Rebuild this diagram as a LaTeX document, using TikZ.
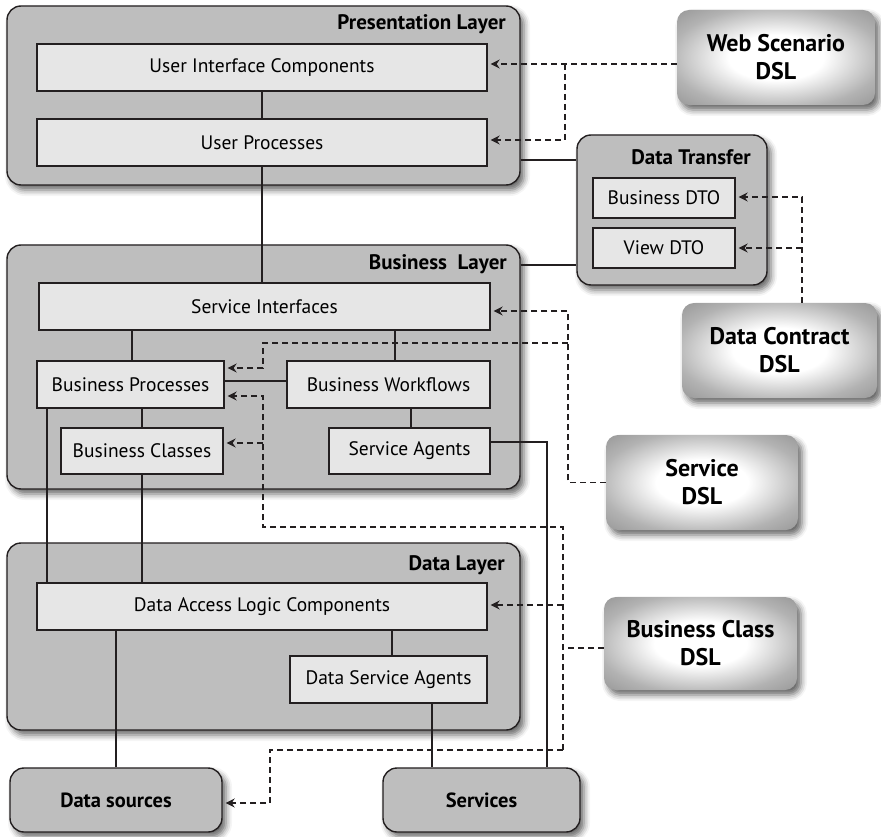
\documentclass[tikz,border=0pt]{standalone}
\usepackage{fontspec}
\setmainfont{PT Sans}
\usetikzlibrary{arrows.meta,shadows.blur}

\definecolor{edge}{HTML}{231F20}
\definecolor{layerfill}{HTML}{BEBEBE}
\definecolor{boxfill}{HTML}{E6E6E6}

% soft glow used for the DSL boxes: white core, grey rim
\pgfdeclareradialshading{dslglow}{\pgfpoint{0bp}{0bp}}{%
  color(0bp)=(white); color(12bp)=(white); color(27bp)=(black!30);
  color(42bp)=(black!48); color(50bp)=(black!56)}

\tikzset{
  softshadow/.style={blur shadow={shadow xshift=4pt, shadow yshift=-5pt,
      shadow blur radius=6pt, shadow opacity=60}},
  layer/.style={draw=edge, line width=1.4pt, fill=layerfill,
      rounded corners=14pt, softshadow, inner sep=0pt},
  part/.style={draw=edge, line width=1.3pt, fill=boxfill, inner sep=0pt,
      font=\fontsize{19.5}{22}\selectfont},
  title/.style={font=\bfseries\fontsize{21}{24}\selectfont, anchor=east,
      inner sep=0pt},
  endbox/.style={layer, font=\bfseries\fontsize{20.5}{24}\selectfont},
  dsl/.style={shade, shading=dslglow, rounded corners=12pt, softshadow,
      inner sep=0pt, align=center,
      font=\bfseries\fontsize{24}{28}\selectfont},
  link/.style={draw=edge, line width=1.3pt},
  depline/.style={draw=edge, line width=1.3pt, dash pattern=on 6pt off 4pt},
  dep/.style={depline, -{Stealth[length=9pt,width=9pt,inset=3pt]}},
}

\begin{document}
\begin{tikzpicture}[x=1pt,y=-1pt]
\useasboundingbox (0,0) rectangle (881,837);

% ---- layers ----
\node[layer, minimum width=513pt, minimum height=179pt] (pres) at (263.5,95.5) {};
\node[layer, minimum width=513pt, minimum height=244pt] (bus)  at (263.5,367) {};
\node[layer, minimum width=513pt, minimum height=187pt] (data) at (263.5,636.5) {};
\node[layer, minimum width=190pt, minimum height=150pt] (dt)   at (672,210) {};

\node[title] (prest) at (506,24) {Presentation Layer};
\node[title] (bust)  at (507,264) {Business~ Layer};
\node[title] (datat) at (505,565) {Data Layer};
\node[title] (dtt)   at (751,157) {Data Transfer};

% ---- components ----
\node[part, minimum width=450pt, minimum height=47pt] (uic)  at (262,67.5)  {User Interface Components};
\node[part, minimum width=450pt, minimum height=47pt] (up)   at (262,142.5) {User Processes};
\node[part, minimum width=451pt, minimum height=47pt] (si)   at (264.5,306.5) {Service Interfaces};
\node[part, minimum width=187pt, minimum height=47pt] (bp)   at (130.5,384.5) {Business Processes};
\node[part, minimum width=203pt, minimum height=47pt] (bw)   at (388.5,384.5) {Business Workflows};
\node[part, minimum width=162pt, minimum height=46pt] (bc)   at (142,451) {Business Classes};
\node[part, minimum width=161pt, minimum height=46pt] (sa)   at (409.5,451) {Service Agents};
\node[part, minimum width=450pt, minimum height=47pt] (dalc) at (262,606.5) {Data Access Logic Components};
\node[part, minimum width=197pt, minimum height=47pt] (dsa)  at (388.5,679.5) {Data Service Agents};
\node[part, minimum width=142pt, minimum height=40pt] (bdto) at (664,198) {Business DTO};
\node[part, minimum width=142pt, minimum height=40pt] (vdto) at (664,248) {View DTO};

\node[endbox, minimum width=212pt, minimum height=64pt] (dsrc) at (116,800) {Data sources};
\node[endbox, minimum width=197pt, minimum height=64pt] (svc)  at (481.5,800) {Services};

% ---- DSL generators ----
\node[dsl, minimum width=198pt, minimum height=95pt] (web)   at (776,57.5)  {Web Scenario\\DSL};
\node[dsl, minimum width=195pt, minimum height=95pt] (dc)    at (779.5,350.5) {Data Contract\\DSL};
\node[dsl, minimum width=192pt, minimum height=95pt] (sdsl)  at (702,482.5) {Service\\DSL};
\node[dsl, minimum width=193pt, minimum height=93pt] (bcdsl) at (700.5,643.5) {Business Class\\DSL};

% ---- solid connections ----
\draw[link] (uic) -- (up);
\draw[link] (up.south) -- (up.south |- si.north);
\draw[link] ([xshift=1.5pt]bp.north) -- ([xshift=1.5pt]bp.north |- si.south);
\draw[link] ([xshift=6.5pt]bw.north) -- ([xshift=6.5pt]bw.north |- si.south);
\draw[link] ([yshift=3.5pt]bp.east) -- ([yshift=3.5pt]bw.west);
\draw[link] (bc.north) -- (bc.north |- bp.south);
\draw[link] ([xshift=1.5pt]sa.north) -- ([xshift=1.5pt]sa.north |- bw.south);
\draw[link] ([xshift=10.5pt]bp.south west) -- ([xshift=10.5pt]bp.south west |- dalc.north);
\draw[link] (bc.south) -- (bc.south |- dalc.north);
\draw[link] ([xshift=3.5pt]dsa.north) -- ([xshift=3.5pt]dsa.north |- dalc.south);
\draw[link] (dsrc.north) -- (dsrc.north |- dalc.south);
\draw[link] ([xshift=43.5pt]dsa.south) -- ([xshift=43.5pt]dsa.south |- svc.north);
\draw[link] ([yshift=9pt]sa.east) -| ([xshift=65.5pt]svc.north);
\draw[link] ([yshift=-64.5pt]pres.east) -- ([yshift=-64.5pt]pres.east -| dt.west);
\draw[link] ([yshift=102pt]bus.east) -- ([yshift=102pt]bus.east -| dt.west);

% ---- generated-from dependencies ----
% Web Scenario DSL
\coordinate (wj) at (565,64);
\draw[dep] ([yshift=-6.5pt]web.west) -- ([xshift=3pt,yshift=3.5pt]uic.east);
\draw[dep] (wj) |- ([xshift=3pt,yshift=2.5pt]up.east);

% Data Contract DSL
\coordinate (dcj) at (802,248);
\draw[dep] ([xshift=22.5pt]dc.north) |- ([xshift=3pt,yshift=1pt]bdto.east);
\draw[dep] (dcj) -- ([xshift=3pt]vdto.east);

% Service DSL
\coordinate (sj) at (568,343);
\draw[dep] (sdsl.west) -- (568,482.5) -- (568,311) -- ([xshift=3pt,yshift=-4.5pt]si.east);
\draw[dep] (sj) -- (263,343) -- (263,368) -- ([xshift=3pt,yshift=16.5pt]bp.east);

% Business Class DSL
\coordinate (bj) at (563,648);
\coordinate (bk) at (263,443);
\coordinate (bd) at (563,605);
\draw[depline] ([yshift=-4.5pt]bcdsl.west) -- (bj);
\draw[dep] (563,750) -- (563,527) -- (263,527) -- (263,396) -- ([xshift=3pt,yshift=-11.5pt]bp.east);
\draw[dep] (bk) -- ([xshift=3pt,yshift=8pt]bc.east);
\draw[dep] (bd) -- ([xshift=3pt,yshift=1.5pt]dalc.east);
\draw[dep] (563,750) -- (270,750) -- (270,803) -- ([xshift=3pt,yshift=-3pt]dsrc.east);
\end{tikzpicture}
\end{document}
